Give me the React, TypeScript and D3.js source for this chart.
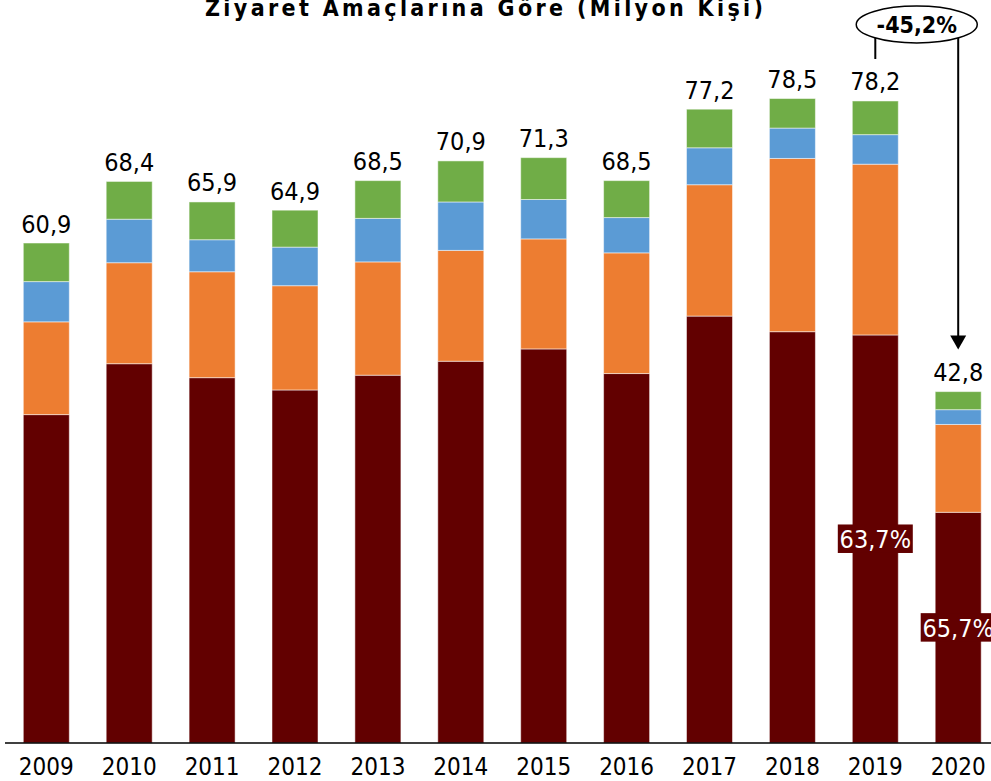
import React from "react";
import * as d3 from "d3";

const years = ["2009","2010","2011","2012","2013","2014","2015","2016","2017","2018","2019","2020"];
const vRed = [40.0, 46.2, 44.5, 43.0, 44.8, 46.5, 48.0, 45.0, 52.0, 50.1, 49.7, 28.1];
const vOrange = [11.3, 12.3, 12.9, 12.7, 13.8, 13.5, 13.4, 14.7, 16.0, 21.1, 20.8, 10.7];
const vBlue = [4.9, 5.3, 3.9, 4.7, 5.3, 5.9, 4.8, 4.3, 4.5, 3.7, 3.6, 1.8];
const vGreen = [4.7, 4.6, 4.6, 4.5, 4.6, 5.0, 5.1, 4.5, 4.7, 3.6, 4.1, 2.2];
const totalLabels = ["60,9","68,4","65,9","64,9","68,5","70,9","71,3","68,5","77,2","78,5","78,2","42,8"];
const shareLabels = [
  { year: "2019", text: "63,7%" },
  { year: "2020", text: "65,7%" },
];
const changeLabel = "-45,2%";
const changeFrom = "2019";
const changeTo = "2020";
const title = "Ziyaret Amaçlarına Göre (Milyon Kişi)";

const seriesKeys = ["red", "orange", "blue", "green"];
const colors: Record<string, string> = {
  red: "#620000",
  orange: "#ED7D31",
  blue: "#5B9BD5",
  green: "#70AD47",
};

const W = 991, H = 781;
const baseY = 743;
const FONT = "'DejaVu Sans Condensed', 'DejaVu Sans', sans-serif";

export default function App() {
  const rows = years.map((y, i) => ({
    year: y,
    red: vRed[i],
    orange: vOrange[i],
    blue: vBlue[i],
    green: vGreen[i],
  }));
  const stack = d3.stack<any>().keys(seriesKeys);
  const series = stack(rows);

  const x = d3.scaleBand<string>().domain(years).range([4.85, 999.65]).paddingInner(0.445).paddingOuter(0.2225);
  const y = d3.scaleLinear().domain([0, 90]).range([baseY, baseY - 90 * 8.21]);
  const bw = x.bandwidth();
  const cx = (yr: string) => (x(yr) as number) + bw / 2;
  const totals = rows.map((r) => r.red + r.orange + r.blue + r.green);

  const fromX = cx(changeFrom);
  const toX = cx(changeTo);
  const ellCx = (fromX + toX) / 2;
  const ellCy = 24.5, rx = 60.5, ry = 18.5;
  const ellYAt = (px: number) => {
    const d = (px - ellCx) / rx;
    return ellCy + ry * Math.sqrt(Math.max(0, 1 - d * d));
  };
  const toTop = y(totals[years.indexOf(changeTo)]);
  const fromTop = y(totals[years.indexOf(changeFrom)]);
  const tipY = toTop - 42;

  return (
    <svg width={W} height={H} style={{ position: "absolute", left: 0, top: 0, background: "#fff" }}>
      <text
        x={205}
        y={16}
        fontFamily={FONT}
        fontWeight="bold"
        fontSize={23}
        textLength={558}
        lengthAdjust="spacing"
        fill="#000"
      >
        {title}
      </text>

      {series.map((s) => (
        <g key={s.key}>
          {s.map((d, i) => (
            <rect
              key={i}
              x={x(years[i])}
              y={y(d[1])}
              width={bw}
              height={y(d[0]) - y(d[1])}
              fill={colors[s.key]}
              stroke="#ffffff"
              strokeOpacity={0.5}
              strokeWidth={1}
            />
          ))}
        </g>
      ))}

      {years.map((yr, i) => (
        <text
          key={"t" + yr}
          x={cx(yr)}
          y={y(totals[i]) - 10.5}
          textAnchor="middle"
          fontFamily={FONT}
          fontSize={25}
          fill="#000"
        >
          {totalLabels[i]}
        </text>
      ))}

      {shareLabels.map((s) => {
        const i = years.indexOf(s.year);
        const midY = y(vRed[i] / 2);
        return (
          <g key={"s" + s.year}>
            <rect x={cx(s.year) - 37.5} y={midY - 14.5} width={75} height={28.5} fill={colors.red} />
            <text
              x={cx(s.year)}
              y={midY + 9.5}
              textAnchor="middle"
              fontFamily={FONT}
              fontSize={25}
              fill="#fff"
            >
              {s.text}
            </text>
          </g>
        );
      })}

      <line x1={5} x2={991} y1={baseY} y2={baseY} stroke="#000" strokeWidth={1.5} />

      {years.map((yr) => (
        <text
          key={"y" + yr}
          x={cx(yr)}
          y={775}
          textAnchor="middle"
          fontFamily={FONT}
          fontSize={24}
          fill="#000"
        >
          {yr}
        </text>
      ))}

      <line x1={fromX} x2={fromX} y1={ellYAt(fromX)} y2={fromTop - 42} stroke="#000" strokeWidth={2} />
      <line x1={toX} x2={toX} y1={ellYAt(toX)} y2={tipY - 13} stroke="#000" strokeWidth={2} />
      <path
        d={`M${toX - 8},${tipY - 14} L${toX + 8},${tipY - 14} L${toX},${tipY} Z`}
        fill="#000"
      />
      <ellipse cx={ellCx} cy={ellCy} rx={rx} ry={ry} fill="#fff" stroke="#000" strokeWidth={1.5} />
      <text
        x={ellCx}
        y={32.5}
        textAnchor="middle"
        fontFamily={FONT}
        fontWeight="bold"
        fontSize={23}
        fill="#000"
      >
        {changeLabel}
      </text>
    </svg>
  );
}
